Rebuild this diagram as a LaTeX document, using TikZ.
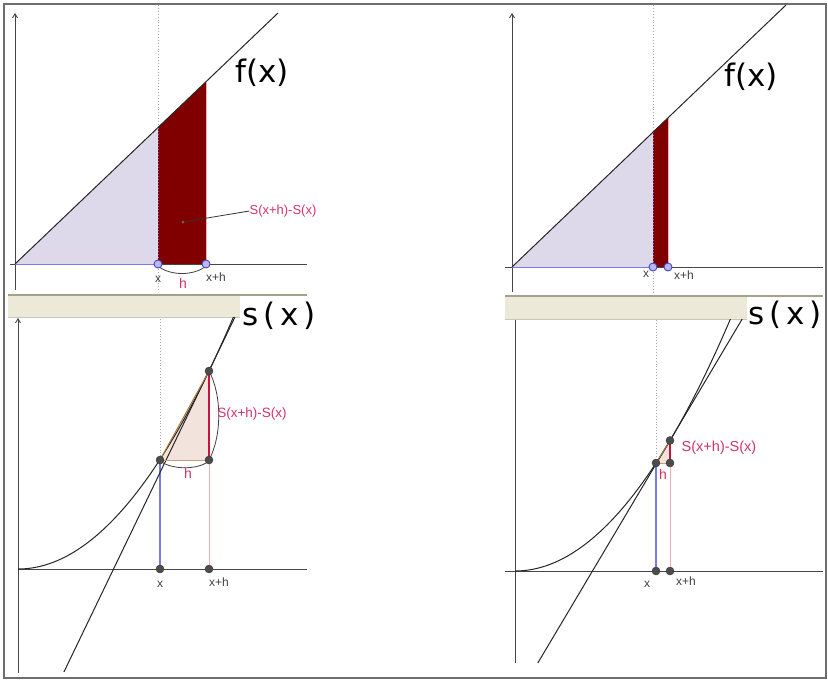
\documentclass[tikz,border=0pt]{standalone}
\usepackage{fontspec}
\setmainfont{Liberation Sans}
\newfontfamily\bigfont{DejaVu Sans}
\usetikzlibrary{arrows.meta}
\definecolor{lav}{RGB}{221,216,234}
\definecolor{dred}{RGB}{128,0,0}
\definecolor{ptfill}{RGB}{185,185,235}
\definecolor{ptline}{RGB}{70,70,200}
\definecolor{lblpink}{RGB}{214,50,105}
\definecolor{peach}{RGB}{242,228,220}
\definecolor{secbrown}{RGB}{175,120,60}
\definecolor{segred}{RGB}{200,20,60}
\definecolor{faintpink}{RGB}{240,175,180}
\definecolor{bluev}{RGB}{120,120,230}
\definecolor{tanfill}{RGB}{236,233,216}
\definecolor{tanline}{RGB}{165,162,140}
\definecolor{axisgray}{RGB}{70,70,70}
\definecolor{framegray}{RGB}{110,110,110}
\tikzset{
  axis/.style={draw=axisgray, line width=0.9pt},
  axarrow/.style={axis, -{Straight Barb[length=4pt,width=5pt]}},
  curveline/.style={draw=black!85, line width=1pt},
  guide/.style={draw=gray!70, dotted, line width=0.9pt},
  bpt/.style={circle, draw=ptline, fill=ptfill, line width=0.9pt, minimum size=8pt, inner sep=0pt},
  kpt/.style={circle, draw=black!80, fill=black!70, minimum size=8pt, inner sep=0pt},
  small/.style={font=\fontsize{12}{12}\selectfont, text=black!75, inner sep=0pt},
  pinklbl/.style={font=\fontsize{14}{14}\selectfont, text=lblpink, inner sep=0pt},
  big/.style={font=\bigfont\fontsize{31}{31}\selectfont, text=black, inner sep=0pt},
  brace/.style={draw=black!75, line width=0.8pt},
}
\begin{document}
\begin{tikzpicture}[x=1pt,y=-1pt]
\useasboundingbox (0,0) rectangle (828,681);
\fill[white] (0,0) rectangle (828,681);
\draw[framegray, line width=1.2pt] (4,4) rectangle (826,678);

% ================= upper left =================
\draw[guide] (158,5) -- (158,292);
\fill[lav] (15,264) -- (158,264) -- (158,127.5) -- cycle;
\fill[dred] (158,264) -- (158,127.5) -- (206,81.8) -- (206,264) -- cycle;
\draw[faintpink, line width=1pt] (206,81.8) -- (206,264);
\draw[bluev, dotted, line width=1pt] (158,128) -- (158,264);
\draw[axarrow] (15,290) -- (15,13);
\draw[axis] (10,264) -- (307,264);
\draw[bluev, line width=1pt] (15,264) -- (158,264);
\draw[curveline] (15,264) -- (278,13);
\draw[brace] (158,266) .. controls (170,276) and (194,276) .. (206,266);
\node[bpt] (ulx) at (158,264) {};
\node[bpt] (ulxh) at (206,264) {};
\node[small] (ulxl) at (158,279) {x};
\node[small] (ulxhl) at (216,277) {x+h};
\node[pinklbl] (ulh) at (183,283) {h};
\node[circle, fill=black!60, inner sep=0pt, minimum size=3pt] (uldot) at (183,222) {};
\node[pinklbl, font=\fontsize{13}{13}\selectfont] (ullbl) at (283,211) {S(x+h)-S(x)};
\draw[black!80, line width=0.8pt] (uldot) -- (ullbl.west);
\node[big] (ulf) at (262,73) {f(x)};

% ================= upper right =================
\draw[guide] (653,5) -- (653,295);
\fill[lav] (512,267) -- (653,267) -- (653,132) -- cycle;
\fill[dred] (653,267) -- (653,132) -- (668,117.7) -- (668,267) -- cycle;
\draw[faintpink, line width=0.8pt] (668,117.7) -- (668,267);
\draw[bluev, dotted, line width=1pt] (653,132) -- (653,267);
\draw[axarrow] (512,292) -- (512,13);
\draw[axis] (505,267) -- (823,267);
\draw[bluev, line width=1pt] (512,267) -- (653,267);
\draw[curveline] (512,267) -- (786,5);
\node[bpt] (urx) at (653,267) {};
\node[bpt] (urxh) at (668,267) {};
\node[small] (urxl) at (646,274) {x};
\node[small] (urxhl) at (684,275) {x+h};
\node[big] (urf) at (751,77) {f(x)};

% ================= bars =================
\fill[tanfill] (8,295) rectangle (240,317);
\draw[tanline, line width=1.2pt] (8,295) -- (307,295);
\draw[tanline!60, line width=0.6pt] (8,317) -- (240,317);
\node[big] (uls) at (279,316) {s\kern5pt(\kern5pt x\kern5pt)};
\fill[tanfill] (505,296) rectangle (747,319);
\draw[tanline, line width=1.2pt] (505,296) -- (823,296);
\draw[tanline!60, line width=0.6pt] (505,319) -- (747,319);
\node[big] (urs) at (785,315) {s\kern5pt(\kern5pt x\kern5pt)};

% ================= lower left =================
\draw[guide] (160,319) -- (160,460);
\fill[peach] (160,460.5) -- (209,460.5) -- (209,371) -- cycle;
\draw[faintpink, line width=0.9pt] (209,460) -- (209,569);
\draw[bluev, line width=1.1pt] (160,460) -- (160,569);
\draw[axarrow] (18,673) -- (18,318);
\draw[axis] (18,569) -- (307,569);
\draw[curveline] plot[domain=0:215.4, samples=80] ({18+\x},{569-54.3*(\x/100)*(\x/100)});
\draw[curveline] (63.9,672) -- (235,317);
\draw[secbrown, line width=1pt] (160,460) -- (209,371);
\draw[secbrown!70, line width=0.9pt] (160,460.5) -- (209,460.5);
\draw[segred, line width=2pt] (209,460) -- (209,371);
\draw[brace] (160,461) .. controls (172,470) and (198,470) .. (209,461);
\draw[brace] (209,371) .. controls (222,395) and (222,436) .. (209,460);
\node[kpt] (llA) at (160,460) {};
\node[kpt] (llB) at (209,460) {};
\node[kpt] (llC) at (209,371) {};
\node[kpt] (llx) at (160,569) {};
\node[kpt] (llxh) at (209,569) {};
\node[small] (llxl) at (160,584) {x};
\node[small] (llxhl) at (219,582) {x+h};
\node[pinklbl] (llh) at (188,473) {h};
\node[pinklbl, font=\fontsize{13.5}{13.5}\selectfont] (lllbl) at (252,414) {S(x+h)-S(x)};

% ================= lower right =================
\draw[guide] (656,320) -- (656,462);
\fill[peach] (656,463) -- (670,463) -- (670,440.5) -- cycle;
\draw[faintpink, line width=0.9pt] (670,463) -- (670,571);
\draw[bluev, line width=1.1pt] (656,463) -- (656,571);
\draw[axis] (515,663) -- (515,320);
\draw[axis] (505,571) -- (823,571);
\draw[curveline] plot[domain=0:215.4, samples=80] ({515+\x},{571-54.3*(\x/100)*(\x/100)});
\draw[curveline] (537.8,663) -- (742.2,319);
\draw[secbrown, line width=1pt] (656,463) -- (670,440.5);
\draw[secbrown!70, line width=0.9pt] (656,463) -- (670,463);
\draw[segred, line width=2pt] (670,463) -- (670,440.5);
\node[kpt] (lrA) at (656,463) {};
\node[kpt] (lrB) at (670,463) {};
\node[kpt] (lrC) at (670,440.5) {};
\node[kpt] (lrx) at (656,571) {};
\node[kpt] (lrxh) at (670,571) {};
\node[small] (lrxl) at (647,584) {x};
\node[small] (lrxhl) at (686,581) {x+h};
\node[pinklbl] (lrh) at (663,474) {h};
\node[pinklbl, font=\fontsize{14.5}{14.5}\selectfont] (lrlbl) at (719,448) {S(x+h)-S(x)};
\end{tikzpicture}
\end{document}
